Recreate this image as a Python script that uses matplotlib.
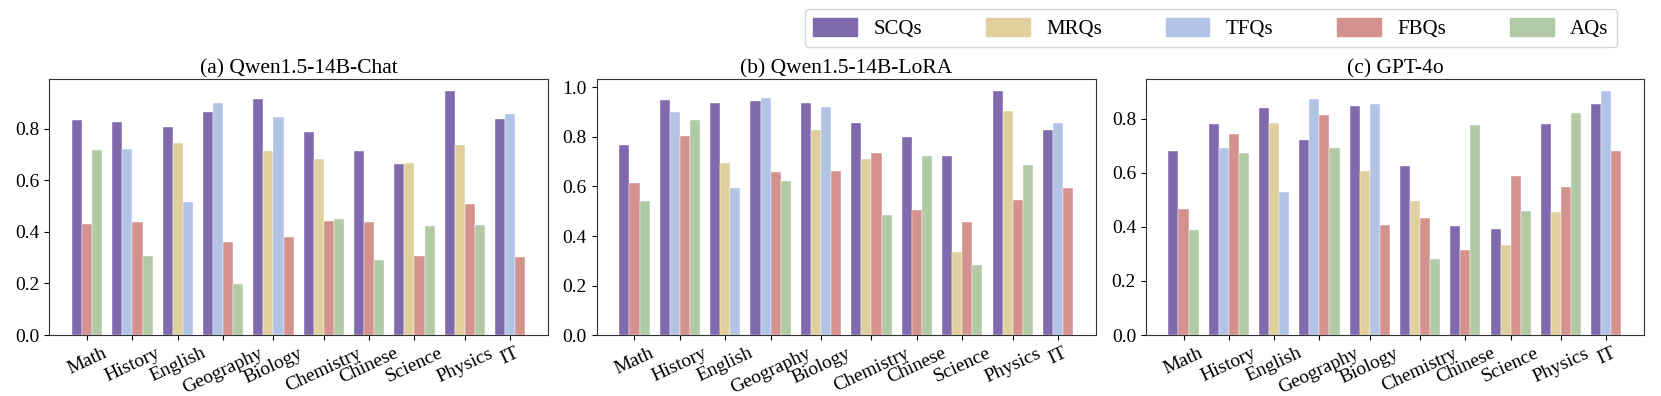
import matplotlib
matplotlib.use("Agg")
import matplotlib.pyplot as plt
import numpy as np

plt.rcParams['font.family'] = ['Liberation Serif', 'DejaVu Serif']

subjects = ['Math', 'History', 'English', 'Geography', 'Biology',
            'Chemistry', 'Chinese', 'Science', 'Physics', 'IT']
qtypes = ['SCQs', 'MRQs', 'TFQs', 'FBQs', 'AQs']
colors = ['#8069ac', '#dfd09e', '#b2c3e5', '#d3928e', '#afcaa5']
nan = np.nan

# rows = subjects, columns = SCQs, MRQs, TFQs, FBQs, AQs (nan = not present)
qwen_chat = [
    [0.835, nan, nan, 0.431, 0.719],
    [0.826, nan, 0.722, 0.439, 0.306],
    [0.806, 0.745, 0.514, nan, nan],
    [0.863, nan, 0.899, 0.361, 0.199],
    [0.916, 0.714, 0.845, 0.378, nan],
    [0.786, 0.682, nan, 0.443, 0.451],
    [0.714, nan, nan, 0.438, 0.290],
    [0.664, 0.666, nan, 0.308, 0.422],
    [0.945, 0.736, nan, 0.506, 0.425],
    [0.837, nan, 0.858, 0.304, nan],
]
qwen_lora = [
    [0.768, nan, nan, 0.613, 0.540],
    [0.948, nan, 0.899, 0.806, 0.867],
    [0.938, 0.693, 0.592, nan, nan],
    [0.946, nan, 0.958, 0.658, 0.623],
    [0.937, 0.830, 0.922, 0.662, nan],
    [0.858, 0.713, nan, 0.737, 0.484],
    [0.798, nan, nan, 0.505, 0.725],
    [0.722, 0.334, nan, 0.457, 0.284],
    [0.985, 0.903, nan, 0.547, 0.685],
    [0.827, nan, 0.858, 0.594, nan],
]
gpt4o = [
    [0.682, nan, nan, 0.465, 0.387],
    [0.782, nan, 0.693, 0.745, 0.674],
    [0.839, 0.785, 0.530, nan, nan],
    [0.723, nan, 0.874, 0.815, 0.693],
    [0.847, 0.606, 0.856, 0.407, nan],
    [0.627, 0.494, nan, 0.432, 0.280],
    [0.402, nan, nan, 0.314, 0.777],
    [0.393, 0.334, nan, 0.589, 0.460],
    [0.779, 0.455, nan, 0.547, 0.822],
    [0.854, nan, 0.902, 0.679, nan],
]
titles = ['(a) Qwen1.5-14B-Chat', '(b) Qwen1.5-14B-LoRA', '(c) GPT-4o']
panels = [qwen_chat, qwen_lora, gpt4o]

fig = plt.figure(figsize=(16.61, 3.96), dpi=100)
rects = [[0.0297, 0.154, 0.3002, 0.6465],
         [0.3592, 0.154, 0.3006, 0.6465],
         [0.6898, 0.154, 0.3000, 0.6465]]

for rect, data, title in zip(rects, panels, titles):
    ax = fig.add_axes(rect)
    data = np.array(data)
    pos = 0.0
    centers = []
    # only the question types a subject has get a bar, one bar-width gap between subjects
    for i in range(len(subjects)):
        present = [j for j in range(len(qtypes)) if not np.isnan(data[i, j])]
        xs = pos + np.arange(len(present))
        for x, j in zip(xs, present):
            ax.bar(x, data[i, j], width=1.0, color=colors[j],
                   edgecolor='white', linewidth=0.3, align='edge')
        centers.append(pos + len(present) / 2)
        pos += len(present) + 1
    ax.set_xticks(centers)
    ax.set_xticklabels(subjects, rotation=25, fontsize=14)
    ax.tick_params(axis='y', labelsize=14)
    ax.set_title(title, fontsize=15.5, pad=4)
    for s in ax.spines.values():
        s.set_color('#333333')

handles = [plt.Rectangle((0, 0), 1, 1, color=c) for c in colors]
fig.legend(handles, qtypes, loc='upper left',
           bbox_to_anchor=(805 / 1661, 0.9765, 812 / 1661, 0.0), mode='expand',
           ncol=5, fontsize=15, handlelength=2.1, handleheight=1.0,
           borderaxespad=0.0, frameon=True)

plt.savefig('out.png', dpi=100)
